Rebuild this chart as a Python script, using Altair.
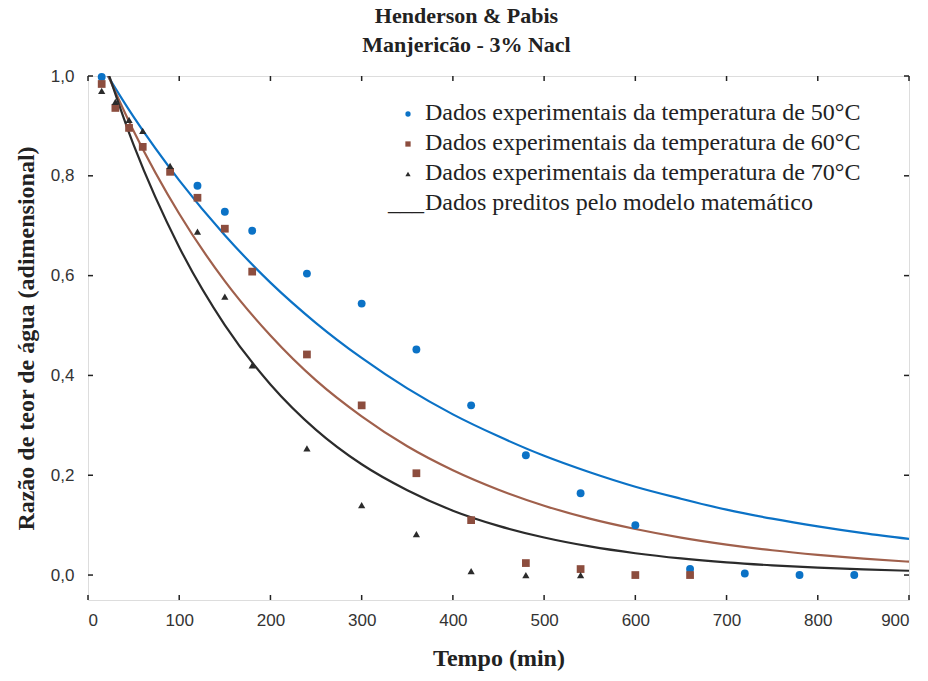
import altair as alt
import pandas as pd

t_50 = [15, 120, 150, 180, 240, 300, 360, 420, 480, 540, 600, 660, 720, 780, 840]
mr_50 = [0.998, 0.78, 0.728, 0.69, 0.604, 0.544, 0.452, 0.34, 0.24, 0.164, 0.10, 0.012, 0.003, 0.0, 0.0]

t_60 = [15, 30, 45, 60, 90, 120, 150, 180, 240, 300, 360, 420, 480, 540, 600, 660]
mr_60 = [0.984, 0.936, 0.896, 0.858, 0.808, 0.756, 0.694, 0.608, 0.442, 0.34, 0.204, 0.11, 0.024, 0.012, 0.0, 0.0]

t_70 = [15, 30, 45, 60, 90, 120, 150, 180, 240, 300, 360, 420, 480, 540]
mr_70 = [0.97, 0.948, 0.912, 0.89, 0.82, 0.688, 0.558, 0.42, 0.254, 0.14, 0.082, 0.008, 0.0, 0.0]

# ---- model curves ----
t_curve = [0, 50, 100, 150, 200, 250, 300, 350, 400, 450, 500, 550, 600, 650, 700, 750, 800, 850, 900]
curve_50 = [1.066, 0.918, 0.791, 0.681, 0.586, 0.505, 0.435, 0.374, 0.322, 0.278, 0.239, 0.206, 0.177,
            0.153, 0.131, 0.113, 0.0975, 0.0839, 0.0723]
curve_60 = [1.093, 0.890, 0.724, 0.589, 0.480, 0.390, 0.318, 0.258, 0.210, 0.171, 0.139, 0.113, 0.0923,
            0.0751, 0.0611, 0.0497, 0.0405, 0.0329, 0.0268]
curve_70 = [1.13, 0.862, 0.657, 0.501, 0.382, 0.291, 0.222, 0.170, 0.129, 0.0986, 0.0752, 0.0573, 0.0437,
            0.0333, 0.0254, 0.0194, 0.0148, 0.0113, 0.0086]

x_ticks = [0, 100, 200, 300, 400, 500, 600, 700, 800, 900]
y_ticks = [0.0, 0.2, 0.4, 0.6, 0.8, 1.0]

legend_labels = [
    "Dados experimentais da temperatura de 50°C",
    "Dados experimentais da temperatura de 60°C",
    "Dados experimentais da temperatura de 70°C",
    "Dados preditos pelo modelo matemático",
]

BLUE = "#0b72c6"
BROWN = "#8c4d3e"
BROWN_LINE = "#a0604c"
DARK = "#2b2b2b"

W, H = 821, 524

xs = alt.Scale(domain=[0, 900], nice=False)
ys = alt.Scale(domain=[-0.05, 1.0], nice=False)

x_axis = alt.Axis(values=x_ticks, format="d", title="Tempo (min)", domain=False, ticks=False,
                  grid=False, labelFont="Liberation Sans", labelFontSize=17, labelColor="#333",
                  labelPadding=12, titleFont="Liberation Serif", titleFontSize=24, titleFontWeight="bold",
                  titleColor="#222", titlePadding=18)
y_axis = alt.Axis(values=y_ticks, labelExpr="replace(format(datum.value, '.1f'), '.', ',')",
                  title="Razão de teor de água (adimensional)", domain=False, ticks=False, grid=False,
                  labelFont="Liberation Sans", labelFontSize=17, labelColor="#333", labelPadding=14,
                  titleFont="Liberation Serif", titleFontSize=24, titleFontWeight="bold", titleColor="#222",
                  titlePadding=12)

curves = pd.DataFrame({
    "t": t_curve * 3,
    "mr": curve_50 + curve_60 + curve_70,
    "s": ["50"] * len(t_curve) + ["60"] * len(t_curve) + ["70"] * len(t_curve),
})

lines = alt.Chart(curves).mark_line(clip=True, strokeWidth=2.2, interpolate="monotone").encode(
    x=alt.X("t:Q", scale=xs, axis=x_axis),
    y=alt.Y("mr:Q", scale=ys, axis=y_axis),
    color=alt.Color("s:N", scale=alt.Scale(domain=["50", "60", "70"], range=[BLUE, BROWN_LINE, DARK]),
                    legend=None),
    detail="s:N",
)

d50 = pd.DataFrame({"t": t_50, "mr": mr_50})
d60 = pd.DataFrame({"t": t_60, "mr": mr_60})
d70 = pd.DataFrame({"t": t_70, "mr": mr_70})

p50 = alt.Chart(d50).mark_point(shape="circle", filled=True, size=62, color=BLUE, opacity=1).encode(
    x=alt.X("t:Q", scale=xs), y=alt.Y("mr:Q", scale=ys))
p60 = alt.Chart(d60).mark_point(shape="square", filled=True, size=60, color=BROWN, opacity=1).encode(
    x=alt.X("t:Q", scale=xs), y=alt.Y("mr:Q", scale=ys))
p70 = alt.Chart(d70).mark_point(shape="triangle-up", filled=True, size=52, color=DARK, opacity=1).encode(
    x=alt.X("t:Q", scale=xs), y=alt.Y("mr:Q", scale=ys))

# inward ticks on all four sides
xt = pd.DataFrame({"v": x_ticks})
yt = pd.DataFrame({"v": y_ticks})
tick_bottom = alt.Chart(xt).mark_rule(color="#222", strokeWidth=1.5).encode(
    x=alt.X("v:Q", scale=xs), y=alt.value(H), y2=alt.value(H - 5))
tick_top = alt.Chart(xt).mark_rule(color="#222", strokeWidth=1.5).encode(
    x=alt.X("v:Q", scale=xs), y=alt.value(0), y2=alt.value(5))
tick_left = alt.Chart(yt).mark_rule(color="#222", strokeWidth=1.5).encode(
    y=alt.Y("v:Q", scale=ys), x=alt.value(0), x2=alt.value(5))
tick_right = alt.Chart(yt).mark_rule(color="#222", strokeWidth=1.5).encode(
    y=alt.Y("v:Q", scale=ys), x=alt.value(W), x2=alt.value(W - 5))

# legend (annotation)
LX_SYM, LX_TXT = 320, 337
rows_y = [44, 74, 104, 134]
leg_font = dict(font="Liberation Serif", fontSize=24, color="#222", align="left", baseline="alphabetic")
legend_layers = []
for i, lab in enumerate(legend_labels):
    legend_layers.append(
        alt.Chart(pd.DataFrame({"txt": [lab]})).mark_text(**leg_font).encode(
            text="txt:N", x=alt.value(LX_TXT), y=alt.value(rows_y[i]))
    )
legend_layers.append(
    alt.Chart(pd.DataFrame({"txt": ["___"]})).mark_text(**leg_font).encode(
        text="txt:N", x=alt.value(300), y=alt.value(rows_y[3]))
)
sym_shapes = ["circle", "square", "triangle-up"]
sym_colors = [BLUE, BROWN, DARK]
for i in range(3):
    legend_layers.append(
        alt.Chart(pd.DataFrame({"k": [i]})).mark_point(shape=sym_shapes[i], filled=True, size=28,
                                                       color=sym_colors[i], opacity=1).encode(
            x=alt.value(LX_SYM), y=alt.value(rows_y[i] - 6))
    )

chart = alt.layer(
    lines, p50, p60, p70, tick_bottom, tick_top, tick_left, tick_right, *legend_layers
).properties(
    width=W, height=H,
    title=alt.TitleParams(
        text=["Henderson & Pabis", "Manjericão - 3% Nacl"],
        font="Liberation Serif", fontSize=22, fontWeight="bold", color="#222",
        anchor="middle", dx=-32, offset=10, lineHeight=29,
    ),
    padding={"left": 88, "top": 76, "right": 19, "bottom": 81},
    autosize=alt.AutoSizeParams(type="none"),
).configure_view(stroke="#222", strokeWidth=2).configure(background="white")

chart.save("out.html", embed_options={"renderer": "svg", "actions": False})
